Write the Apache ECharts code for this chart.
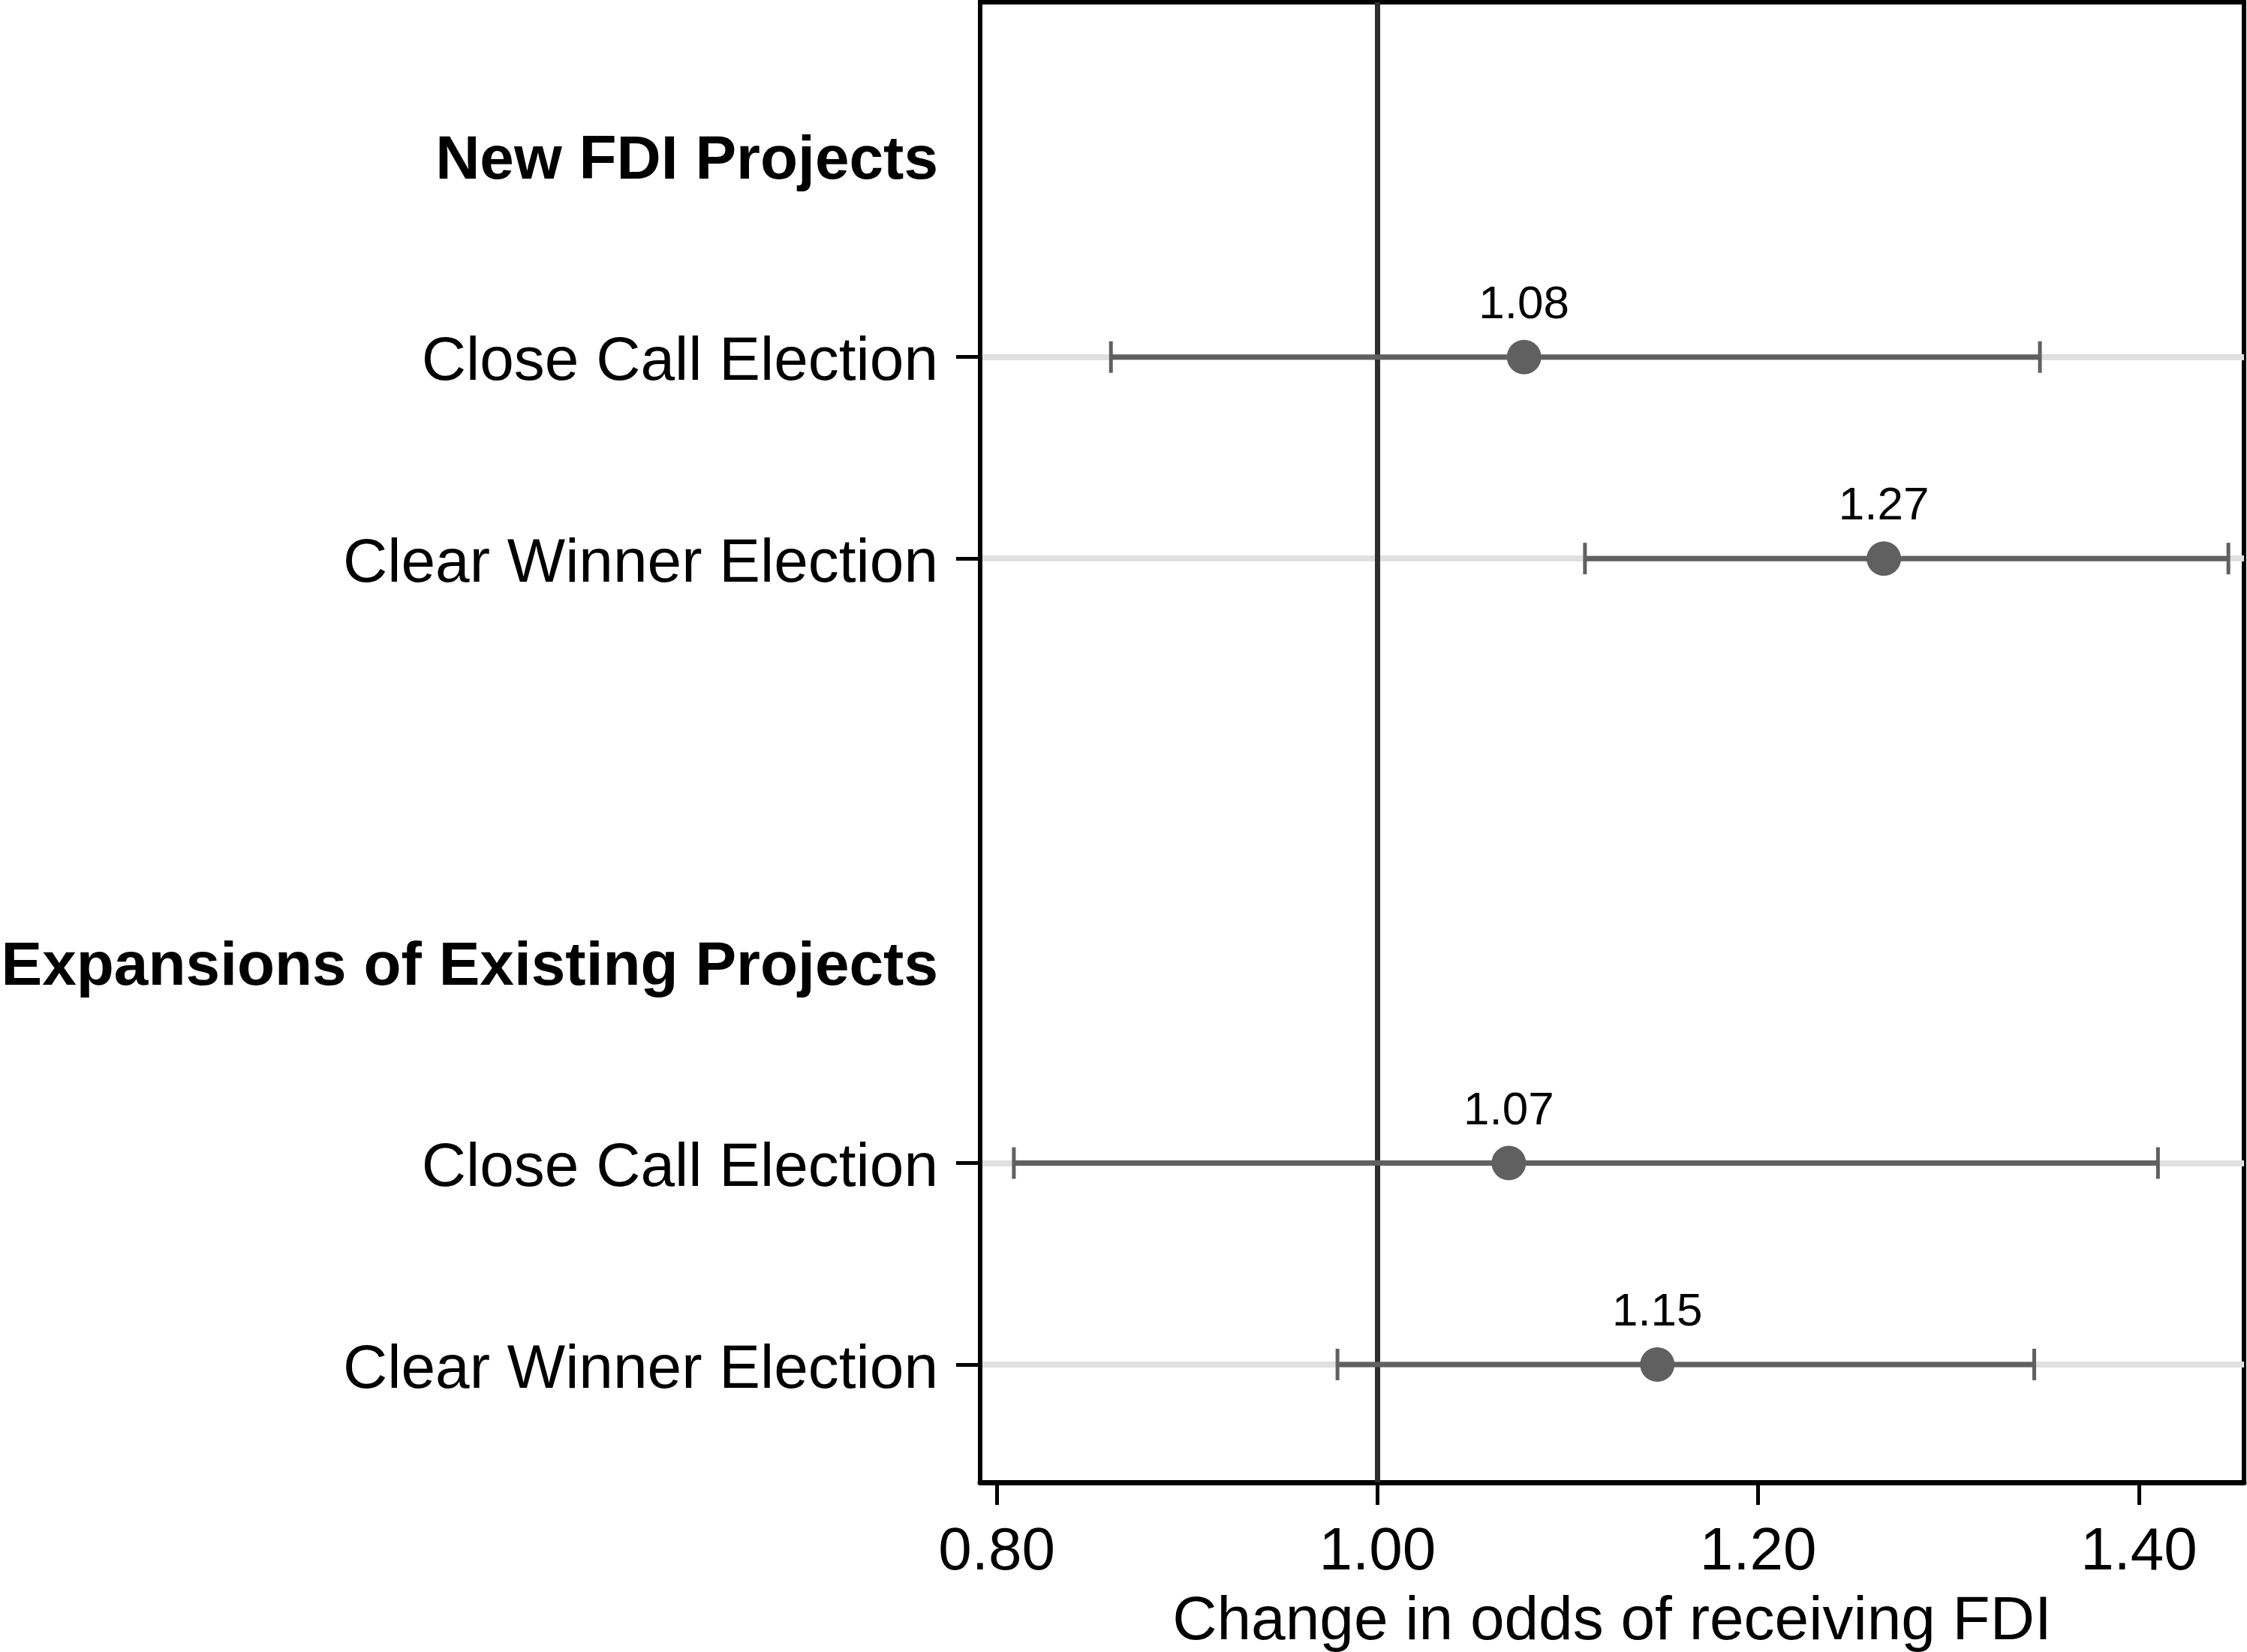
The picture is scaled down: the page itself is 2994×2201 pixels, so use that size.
<!DOCTYPE html>
<html lang="en">
<head>
  <meta charset="UTF-8">
  <title>Change in odds of receiving FDI</title>
  <style>
    html, body { margin: 0; padding: 0; background: #fff; }
    #chart { width: 2994px; height: 2201px; }
  </style>
</head>
<body>
  <div id="chart"></div>
  <script src="https://cdn.jsdelivr.net/npm/echarts@6/dist/echarts.min.js"></script>
  <script>
    // row labels, top to bottom (slot index = position on the y axis)
    var rowLabels = ['New FDI Projects', 'Close Call Election', 'Clear Winner Election', '',
                     'Expansions of Existing Projects', 'Close Call Election', 'Clear Winner Election'];
    var headerSlots = [0, 4];
    // the estimated rows
    var rowSlots = [1, 2, 5, 6];
    var estimates = [1.077, 1.266, 1.069, 1.147];
    var lower = [0.860, 1.109, 0.809, 0.979];
    var upper = [1.348, 1.447, 1.410, 1.345];
    // x axis
    var xTicks = [0.8, 1.0, 1.2, 1.4];
    var refLine = 1.0;

    var font = 'Liberation Sans, Arial, Helvetica, sans-serif';
    var barColor = '#606060';

    var ciData = [];
    var pointData = [];
    for (var i = 0; i < rowSlots.length; i++) {
      ciData.push([rowSlots[i], lower[i], upper[i]]);
      pointData.push([estimates[i], rowSlots[i]]);
    }

    function renderCI(params, api) {
      var slot = api.value(0);
      var a = api.coord([api.value(1), slot]);
      var b = api.coord([api.value(2), slot]);
      var h = 21;
      var st = { stroke: barColor, lineWidth: 5 };
      return {
        type: 'group',
        children: [
          { type: 'line', shape: { x1: a[0], y1: a[1], x2: b[0], y2: b[1] }, style: { stroke: barColor, lineWidth: 7 } },
          { type: 'line', shape: { x1: a[0], y1: a[1] - h, x2: a[0], y2: a[1] + h }, style: st },
          { type: 'line', shape: { x1: b[0], y1: b[1] - h, x2: b[0], y2: b[1] + h }, style: st }
        ]
      };
    }

    var option = {
      backgroundColor: '#fff',
      animation: false,
      textStyle: { fontFamily: font },
      grid: {
        left: 1306, right: 4, top: 3, bottom: 226,
        show: true, borderColor: '#000', borderWidth: 6,
        containLabel: false, outerBoundsMode: 'none'
      },
      xAxis: {
        type: 'value',
        min: 0.7913,
        max: 1.4552,
        name: 'Change in odds of receiving FDI',
        nameLocation: 'middle',
        nameGap: 145,
        nameTextStyle: { fontSize: 82, color: '#000', fontFamily: font },
        axisLine: { show: true, onZero: false, lineStyle: { color: '#000', width: 7 } },
        axisTick: { show: true, length: 30, customValues: xTicks, lineStyle: { color: '#000', width: 5 } },
        axisLabel: {
          customValues: xTicks, margin: 54, fontSize: 80, color: '#000', fontFamily: font,
          formatter: function (v) { return v.toFixed(2); }
        },
        splitLine: { show: false }
      },
      yAxis: {
        type: 'value',
        inverse: true,
        min: -0.761,
        max: 6.585,
        axisLine: { show: true, onZero: false, lineStyle: { color: '#000', width: 6 } },
        axisTick: { show: true, length: 32, customValues: rowSlots, lineStyle: { color: '#000', width: 5 } },
        splitLine: { show: true, lineStyle: { color: '#e0e0e0', width: 8 } },
        axisLabel: {
          customValues: headerSlots.concat(rowSlots),
          margin: 56,
          fontSize: 82,
          color: '#000',
          fontFamily: font,
          padding: [16, 0, 0, 0],
          formatter: function (v) {
            var idx = Math.round(v);
            if (headerSlots.indexOf(idx) >= 0) return '{b|' + rowLabels[idx] + '}';
            return rowLabels[idx];
          },
          rich: {
            b: { fontSize: 82, fontWeight: 'bold', color: '#000', fontFamily: font }
          }
        }
      },
      series: [
        {
          type: 'custom',
          renderItem: renderCI,
          data: ciData,
          encode: { x: [1, 2], y: 0 },
          z: 3,
          markLine: {
            silent: true,
            symbol: 'none',
            label: { show: false },
            lineStyle: { color: '#2e2e2e', width: 7, type: 'solid' },
            data: [{ xAxis: refLine }],
            z: 2
          }
        },
        {
          type: 'scatter',
          data: pointData,
          symbol: 'circle',
          symbolSize: 46,
          itemStyle: { color: barColor, opacity: 1 },
          z: 4,
          label: {
            show: true,
            position: 'top',
            distance: 15,
            fontSize: 62,
            color: '#000',
            fontFamily: font,
            formatter: function (p) { return p.value[0].toFixed(2); }
          }
        }
      ]
    };

    var myChart = echarts.init(document.getElementById('chart'));
    myChart.setOption(option);
  </script>
</body>
</html>
